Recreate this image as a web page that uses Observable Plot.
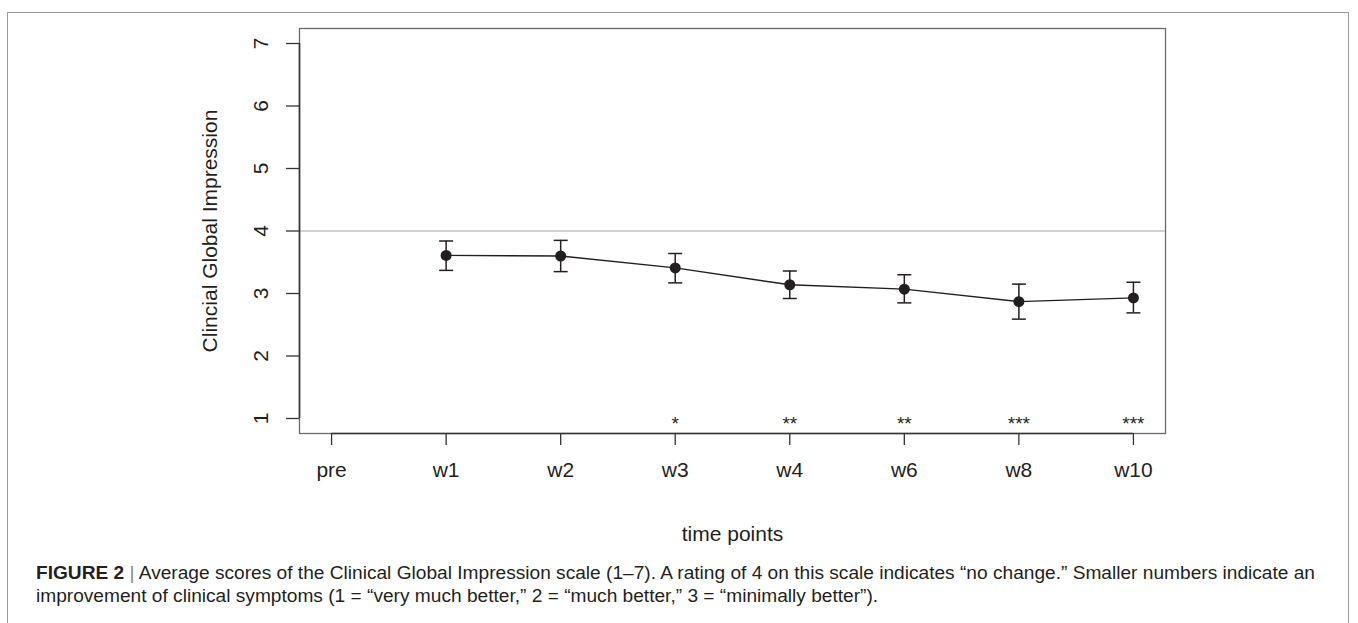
<!DOCTYPE html>
<html><head><meta charset="utf-8">
<script src="https://cdn.jsdelivr.net/npm/d3@7"></script>
<script src="https://cdn.jsdelivr.net/npm/@observablehq/plot@0.6"></script>
<style>
body{margin:0;background:#fff;width:1358px;height:623px;overflow:hidden;position:relative;font-family:"Liberation Sans",Arial,sans-serif;}
#frame{position:absolute;left:7px;top:12px;width:1342px;height:700px;border:1px solid #9a9a9a;box-sizing:border-box;}
#chart{position:absolute;left:0;top:0;}
#caption{position:absolute;left:36px;top:562px;font-size:17.5px;line-height:23px;color:#231f20;white-space:nowrap;font-family:"Liberation Sans",Arial,sans-serif;}
#caption div{transform-origin:0 0;display:inline-block;}
#caption .bar{color:#888;}
</style></head><body>
<div id="frame"></div>
<div id="chart"></div>
<div id="caption"><div id="cap1"><b>FIGURE 2</b> <span class="bar">|</span> Average scores of the Clinical Global Impression scale (1–7). A rating of 4 on this scale indicates “no change.” Smaller numbers indicate an</div><br><div id="cap2">improvement of clinical symptoms (1 = “very much better,” 2 = “much better,” 3 = “minimally better”).</div></div>
<script>
const timePoints = ["pre", "w1", "w2", "w3", "w4", "w6", "w8", "w10"];
const meanScore = [null, 3.61, 3.60, 3.41, 3.14, 3.07, 2.87, 2.93];
const upperBar  = [null, 3.84, 3.85, 3.64, 3.36, 3.30, 3.15, 3.18];
const lowerBar  = [null, 3.37, 3.35, 3.17, 2.92, 2.85, 2.59, 2.69];
const sigMarks  = ["", "", "", "*", "**", "**", "***", "***"];
const yTicks = [1, 2, 3, 4, 5, 6, 7];
const noChangeLine = [4];

const xPos = timePoints.map((_, i) => i + 1);
const data = timePoints.map((t, i) => ({x: i + 1, t, m: meanScore[i], hi: upperBar[i], lo: lowerBar[i], sig: sigMarks[i]}));
const obs = data.filter(d => d.m != null);
const xDom = [0.72, 8.28];
const yDom = [0.76, 7.24];
const ink = "#231f20";
const cap = {draw(ctx, size) { const r = Math.sqrt(size / Math.PI); ctx.moveTo(-r, 0); ctx.lineTo(r, 0); }};

const chart = Plot.plot({
  width: 1358, height: 555,
  marginLeft: 299, marginRight: 193, marginTop: 28, marginBottom: 122,
  style: {fontFamily: "'Liberation Sans', Arial, sans-serif", color: ink, background: "transparent", overflow: "visible"},
  x: {type: "linear", domain: xDom, axis: null, label: null},
  y: {domain: yDom, axis: null, label: null},
  marks: [
    Plot.frame({stroke: "#6a6a6a", strokeWidth: 1.3}),
    Plot.ruleY(noChangeLine, {stroke: "#c4c4c4", strokeWidth: 1.3}),
    Plot.ruleY([yDom[0]], {x1: xPos[0], x2: xPos[xPos.length - 1], stroke: "#333", strokeWidth: 1.6}),
    Plot.ruleX([xDom[0]], {y1: yTicks[0], y2: yTicks[yTicks.length - 1], stroke: "#333", strokeWidth: 1.6}),
    Plot.axisX({ticks: xPos, label: null, tickSize: 12, tickPadding: 17, tickFormat: i => timePoints[i - 1], fontSize: 21, stroke: "#333", strokeWidth: 1.3}),
    Plot.axisY({ticks: yTicks, label: null, tickSize: 13, tickFormat: () => "", stroke: "#333", strokeWidth: 1.3}),
    Plot.text(yTicks, {x: xDom[0], y: d => d, text: d => String(d), rotate: -90, dx: -38, fontSize: 21, fill: ink}),
    Plot.text(["Clincial Global Impression"], {frameAnchor: "left", textAnchor: "middle", rotate: -90, dx: -89, fontSize: 21, fill: ink}),
    Plot.text(["time points"], {frameAnchor: "bottom", dy: 107, fontSize: 21, fill: ink}),
    Plot.ruleX(obs, {x: "x", y1: "lo", y2: "hi", stroke: ink, strokeWidth: 1.5}),
    Plot.dot(obs, {x: "x", y: "hi", symbol: cap, r: 7, stroke: ink, strokeWidth: 1.5, fill: "none"}),
    Plot.dot(obs, {x: "x", y: "lo", symbol: cap, r: 7, stroke: ink, strokeWidth: 1.5, fill: "none"}),
    Plot.line(obs, {x: "x", y: "m", stroke: ink, strokeWidth: 1.5}),
    Plot.dot(obs, {x: "x", y: "m", r: 5.5, fill: ink, stroke: "none"}),
    Plot.text(data, {x: "x", y: () => 1, text: "sig", fontSize: 19, dy: 5, fill: ink})
  ]
});
document.getElementById("chart").appendChild(chart);

// condense caption like the reference's narrow typeface
const c1 = document.getElementById("cap1"), c2 = document.getElementById("cap2");
const s = 1279 / c1.getBoundingClientRect().width;
c1.style.transform = `scaleX(${s})`;
c2.style.transform = `scaleX(${s})`;
</script>
</body></html>
